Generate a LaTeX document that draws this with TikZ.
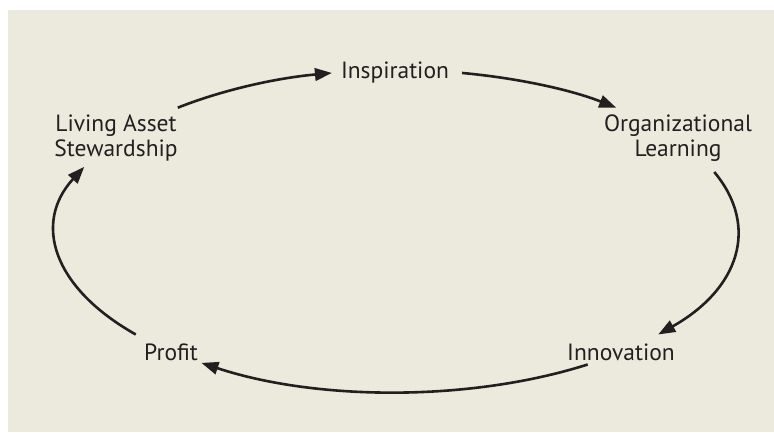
\documentclass[tikz,border=0pt]{standalone}
\usepackage{fontspec}
\setmainfont{PT Sans}
\usetikzlibrary{arrows.meta}
\definecolor{paper}{HTML}{ECE9DD}
\definecolor{ink}{HTML}{231F20}
\tikzset{
  label/.style={text=ink, inner sep=0.75pt, align=center, font=\fontsize{23.5}{25}\selectfont},
  flow/.style={draw=ink, line width=2.6pt, -{Triangle[length=17pt,width=12.5pt]}},
}
\begin{document}
\begin{tikzpicture}[x=1pt,y=1pt]
\useasboundingbox (0,0) rectangle (774,432);
\fill[paper] (8,0) rectangle (774,422);
%Text
\node[label] (inspiration) at (395,359) {Inspiration};
\node[label] (learning) at (678,294) {Organizational\\Learning};
\node[label] (innovation) at (621,80) {Innovation};
\node[label] (profit) at (171,80) {Profit};
\node[label] (stewardship) at (116,294) {Living Asset\\Stewardship};
%Cycle
\coordinate (hub) at (397,201);
\path (hub) ++(130:341pt and 161pt) coordinate (stewardship-out);
\path (hub) ++(79:341pt and 161pt) coordinate (inspiration-out);
\path (hub) ++(21.5:341pt and 161pt) coordinate (learning-out);
\path (hub) ++(-56:341pt and 161pt) coordinate (innovation-out);
\path (hub) ++(220:341pt and 161pt) coordinate (profit-out);
\draw[flow] (stewardship-out) arc[start angle=130, end angle=101, x radius=341pt, y radius=161pt];
\draw[flow] (inspiration-out) arc[start angle=79, end angle=50, x radius=341pt, y radius=161pt];
\draw[flow] (learning-out) arc[start angle=21.5, end angle=-40, x radius=341pt, y radius=161pt];
\draw[flow] (innovation-out) arc[start angle=-56, end angle=-125, x radius=341pt, y radius=161pt];
\draw[flow] (profit-out) arc[start angle=220, end angle=156.5, x radius=341pt, y radius=161pt];
\end{tikzpicture}
\end{document}
